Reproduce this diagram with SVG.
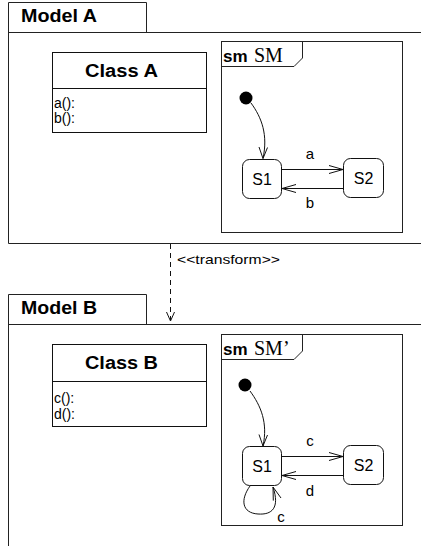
<svg xmlns="http://www.w3.org/2000/svg" width="421" height="546" viewBox="0 0 421 546">
<style>
  .frame { fill: none; stroke: #222; stroke-width: 1; }
  .box { fill: #fff; stroke: #111; stroke-width: 1; }
  .edge { fill: none; stroke: #111; stroke-width: 1; }
  .dash { fill: none; stroke: #111; stroke-width: 1; stroke-dasharray: 5 4; }
  text { font-family: "Liberation Sans", Arial, sans-serif; fill: #000; }
  .title { font-size: 19px; font-weight: bold; }
  .cls { font-size: 18px; font-weight: bold; }
  .op { font-size: 14px; }
  .sm { font-size: 17px; font-weight: bold; }
  .smname { font-family: "Liberation Serif", "Times New Roman", serif; font-size: 20px; }
  .state { font-size: 16px; text-anchor: middle; }
  .lbl { font-size: 15px; text-anchor: middle; }
  .note { font-size: 13px; }
</style>
<rect width="421" height="546" fill="#fff"/>

<!-- Package frame: Model A -->
<g id="model-a">
  <path class="frame" d="M8.5,243.5 V2.5 H146.5 V32.5"/>
  <path class="frame" d="M8.5,32.5 H421"/>
  <path class="frame" d="M8.5,243.5 H421"/>
  <text class="title" x="21" y="22" textLength="76" lengthAdjust="spacingAndGlyphs">Model A</text>
</g>

<g id="class-a">
  <rect class="box" x="52.5" y="52.5" width="154" height="80"/>
  <line class="box" x1="52.5" y1="88.5" x2="206.5" y2="88.5"/>
  <text class="cls" x="85" y="77" textLength="73" lengthAdjust="spacingAndGlyphs">Class A</text>
  <text class="op" x="54" y="108">a():</text>
  <text class="op" x="54" y="123">b():</text>
</g>

<!-- State machine SM -->
<g id="sm-a">
  <rect class="frame" x="221.5" y="41.5" width="181" height="191"/>
  <path class="frame" d="M221.5,66.5 H294 L302.5,58 V41.5"/>
  <text class="sm" x="223" y="62">sm</text>
  <text class="smname" x="254" y="62">SM</text>
</g>
<g id="sm-a-initial"><circle cx="246" cy="98" r="6.5" fill="#000"/></g>
<g id="sm-a-s1">
  <rect class="box" x="242.5" y="159.5" width="39" height="39" rx="7"/>
  <text class="state" x="262" y="185">S1</text>
</g>
<g id="sm-a-s2">
  <rect class="box" x="343.5" y="158.5" width="40" height="39" rx="7"/>
  <text class="state" x="363.5" y="184">S2</text>
</g>

<!-- State machine SM' -->
<g id="sm-b">
  <rect class="frame" x="221.5" y="334.5" width="181" height="191"/>
  <path class="frame" d="M221.5,359.5 H294 L302.5,351 V334.5"/>
  <text class="sm" x="223" y="355">sm</text>
  <text class="smname" x="254" y="355">SM’</text>
</g>
<g id="sm-b-initial"><circle cx="245" cy="385" r="6.5" fill="#000"/></g>
<g id="sm-b-s1">
  <rect class="box" x="242.5" y="446.5" width="39" height="39" rx="7"/>
  <text class="state" x="262" y="472">S1</text>
</g>
<g id="sm-b-s2">
  <rect class="box" x="343.5" y="445.5" width="40" height="39" rx="7"/>
  <text class="state" x="363.5" y="471">S2</text>
</g>

<!-- Package frame: Model B -->
<g id="model-b">
  <path class="frame" d="M8.5,546 V294.5 H146.5 V324.5"/>
  <path class="frame" d="M8.5,324.5 H421"/>
  <text class="title" x="21" y="314" textLength="76" lengthAdjust="spacingAndGlyphs">Model B</text>
</g>

<g id="class-b">
  <rect class="box" x="52.5" y="344.5" width="154" height="82"/>
  <line class="box" x1="52.5" y1="381.5" x2="206.5" y2="381.5"/>
  <text class="cls" x="85" y="369" textLength="73" lengthAdjust="spacingAndGlyphs">Class B</text>
  <text class="op" x="54" y="403">c():</text>
  <text class="op" x="54" y="419">d():</text>
</g>

<!-- Connectors -->
<g id="connectors">
  <!-- SM transitions -->
  <path class="edge" d="M251,103 C262,118 268,135 263,158.5"/>
  <path class="edge" d="M259,147 L263,158.5 L267.5,147.5"/>
  <path class="edge" d="M282,169.5 H343"/>
  <path class="edge" d="M329,165.5 L343,169.5 L329,173.5"/>
  <path class="edge" d="M343,188.5 H282"/>
  <path class="edge" d="M296,184.5 L282,188.5 L296,192.5"/>
  <text class="lbl" x="310" y="159">a</text>
  <text class="lbl" x="310" y="208">b</text>

  <!-- transform dependency -->
  <path class="dash" d="M170.5,244 V320"/>
  <path class="edge" d="M166.5,312 L170.5,321 L174.5,312"/>
  <text class="note" x="177" y="264" textLength="103" lengthAdjust="spacingAndGlyphs">&lt;&lt;transform&gt;&gt;</text>

  <!-- SM' transitions -->
  <path class="edge" d="M250,391 C261,406 268,423 263,446"/>
  <path class="edge" d="M259,434.5 L263,446 L267.5,435"/>
  <path class="edge" d="M282,456.5 H343"/>
  <path class="edge" d="M329,452.5 L343,456.5 L329,460.5"/>
  <path class="edge" d="M343,475.5 H282"/>
  <path class="edge" d="M296,471.5 L282,475.5 L296,479.5"/>
  <path class="edge" d="M250,486 C240,500 242,513 258,514 C272,515 280,508 273,487"/>
  <path class="edge" d="M281,498 L273,487 L273.3,500.6"/>
  <text class="lbl" x="310" y="446">c</text>
  <text class="lbl" x="310" y="496">d</text>
  <text class="lbl" x="281" y="522">c</text>
</g>
</svg>
